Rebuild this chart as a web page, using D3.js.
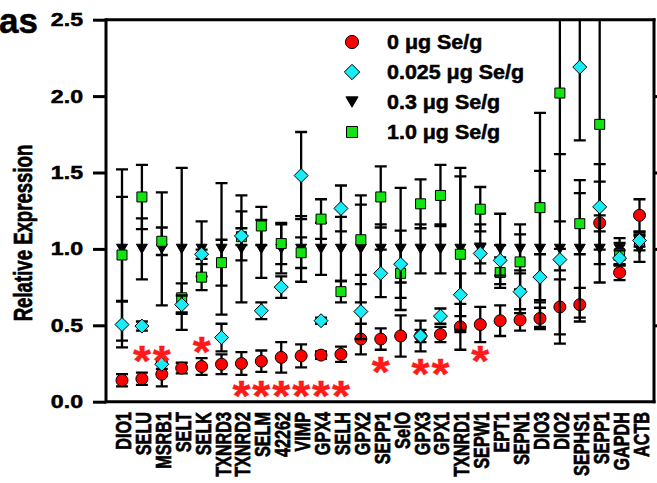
<!DOCTYPE html>
<html>
<head>
<meta charset="utf-8">
<script src="https://cdn.jsdelivr.net/npm/d3@7"></script>
<style>
  html, body { margin: 0; padding: 0; background: #fff; }
  svg { display: block; font-family: "Liberation Sans", Arial, sans-serif; font-weight: bold; }
  .heavy { stroke: #000; stroke-width: 0.5px; paint-order: stroke; }
</style>
</head>
<body>
<svg id="chart" width="657" height="483"></svg>
<script>
// Selenoprotein transcripts (x categories)
const genes = ["DIO1","SELU","MSRB1","SELT","SELK","TXNRD3","TXNRD2","SELM","42262","VIMP",
  "GPX4","SELH","GPX2","SEPP1","SelO","GPX3","GPX1","TXNRD1","SEPW1","EPT1",
  "SEPN1","DIO3","DIO2","SEPHS1","SEPP1","GAPDH","ACTB"];

// Dietary selenium groups
const seriesLabels = ["0 \u03bcg Se/g", "0.025 \u03bcg Se/g", "0.3 \u03bcg Se/g", "1.0 \u03bcg Se/g"];

// Relative expression (mean) and error for each group
const se0 = [0.14,0.15,0.18,0.22,0.23,0.245,0.25,0.265,0.29,0.30,0.305,0.31,0.41,0.41,0.43,0.43,0.44,0.49,0.505,0.53,0.535,0.545,0.62,0.635,1.17,0.845,1.22];
const se0Err = [0.04,0.04,0.08,0.035,0.055,0.065,0.075,0.07,0.1,0.075,0.025,0.05,0.1,0.07,0.135,0.04,0.05,0.15,0.115,0.1,0.07,0.07,0.18,0.11,0.27,0.05,0.105];

const se025 = [0.505,0.495,0.245,0.635,0.965,0.42,1.085,0.595,0.75,1.48,0.53,1.265,0.59,0.84,0.90,0.43,0.56,0.70,0.97,0.925,0.72,0.815,0.93,2.19,1.275,0.94,1.055];
const se025Err = [0.15,0.03,0.03,0.06,0.03,0.09,0.16,0.055,0.07,0.285,0.02,0.15,0.18,0.155,0.22,0.1,0.05,0.14,0.065,0.1,0.14,0.15,0.07,0.48,0.28,0.05,0.04];

const se03 = [1,1,1,1,1,1,1,1,1,1,1,1,1,1,1,1,1,1,1,1,1,1,1,1,1,1,1];
const se03Err = [0.34,0.2,0.37,0.53,0.18,0.43,0.35,0.19,0.16,0.215,0.17,0.21,0.35,0.16,0.4,0.16,0.16,0.53,0.16,0.23,0.16,0.51,0.62,0.45,0.22,0.07,0.085];

const se1 = [0.96,1.34,1.05,0.68,0.815,0.91,1.08,1.15,1.035,0.975,1.195,0.72,1.06,1.34,0.84,1.295,1.35,0.965,1.26,0.845,0.915,1.27,2.02,1.165,1.815,0.97,1.05];
const se1Err = [0.56,0.21,0.09,0.095,0.085,0.15,0.055,0.125,0.135,0.1,0.13,0.07,0.23,0.2,0.06,0.16,0.2,0.51,0.145,0.1,0.18,0.62,0.84,0.2,0.7,0.07,0.06];

// Significance marks (category index, height in expression units)
const sigIndex = [1,2,4,6,7,8,9,10,11,13,15,16,18];
const sigLevel = [0.33,0.33,0.39,0.10,0.10,0.10,0.10,0.10,0.10,0.26,0.25,0.25,0.33];

// Y axis ticks
const yTicks = [0, 0.5, 1.0, 1.5, 2.0, 2.5];

const svg = d3.select("#chart");
const plot = { left: 106, right: 654, top: 19.7, bottom: 401.7 };

const x = d3.scalePoint().domain(d3.range(genes.length)).range([122, 639.5]);
const y = d3.scaleLinear().domain([0, 2.5]).range([plot.bottom, plot.top]);

// Marker shapes
const shapes = {
  circle: r => { const p = d3.path(); p.arc(0, 0, r, 0, 2 * Math.PI); return p.toString(); },
  diamond: r => `M0,${-r}L${r},0L0,${r}L${-r},0Z`,
  triangle: r => `M${-r},${-r * 0.85}L${r},${-r * 0.85}L0,${r * 0.85}Z`,
  square: r => `M${-r},${-r}H${r}V${r}H${-r}Z`
};

const series = [
  { label: seriesLabels[0], mean: se0,   err: se0Err,   shape: "circle",   size: 6,   fill: "#ff0000" },
  { label: seriesLabels[1], mean: se025, err: se025Err, shape: "diamond",  size: 7,   fill: "#18ecf6" },
  { label: seriesLabels[2], mean: se03,  err: se03Err,  shape: "triangle", size: 5.5, fill: "#000000" },
  { label: seriesLabels[3], mean: se1,   err: se1Err,   shape: "square",   size: 5,   fill: "#12e412" }
];
// drawing order: 0, 0.3, 1.0, then 0.025 on top
const drawOrder = [0, 2, 3, 1];

svg.append("defs").append("clipPath").attr("id", "plotClip")
  .append("rect")
  .attr("x", plot.left).attr("y", plot.top)
  .attr("width", plot.right - plot.left).attr("height", plot.bottom - plot.top);

const g = svg.append("g").attr("clip-path", "url(#plotClip)");
const capW = 6;

drawOrder.forEach(si => {
  const s = series[si];
  const data = genes.map((name, i) => ({ i, m: s.mean[i], e: s.err[i] }));
  const sg = g.append("g");
  const eb = sg.selectAll("g.eb").data(data).join("g").attr("class", "eb")
    .attr("stroke", "#000").attr("stroke-width", 2.3).attr("fill", "none");
  eb.append("line")
    .attr("x1", d => x(d.i)).attr("x2", d => x(d.i))
    .attr("y1", d => y(d.m - d.e)).attr("y2", d => y(d.m + d.e));
  eb.append("line")
    .attr("x1", d => x(d.i) - capW).attr("x2", d => x(d.i) + capW)
    .attr("y1", d => y(d.m + d.e)).attr("y2", d => y(d.m + d.e));
  eb.append("line")
    .attr("x1", d => x(d.i) - capW).attr("x2", d => x(d.i) + capW)
    .attr("y1", d => y(d.m - d.e)).attr("y2", d => y(d.m - d.e));
  sg.selectAll("path.mk").data(data).join("path").attr("class", "mk")
    .attr("d", shapes[s.shape](s.size))
    .attr("transform", d => `translate(${x(d.i)},${y(d.m)})`)
    .attr("fill", s.fill).attr("stroke", "#000").attr("stroke-width", 1);
});

// Significance asterisks
svg.append("g").selectAll("text").data(sigIndex.map((idx, k) => ({ idx, v: sigLevel[k] })))
  .join("text")
  .attr("transform", d => `translate(${x(d.idx)},${y(d.v) + 24}) scale(1.1,1)`)
  .attr("text-anchor", "middle")
  .attr("font-size", 42).attr("fill", "#ff1a1a").attr("font-weight", "bold")
  .attr("stroke", "#ff1a1a").attr("stroke-width", 0.4)
  .text("*");

// Frame and axes
const frame = svg.append("g").attr("stroke", "#000").attr("stroke-width", 3).attr("fill", "none");
frame.append("line").attr("x1", plot.left).attr("x2", plot.left).attr("y1", plot.top - 1.5).attr("y2", plot.bottom + 1.5);
frame.append("line").attr("x1", plot.right).attr("x2", plot.right).attr("y1", plot.top - 1.5).attr("y2", plot.bottom + 1.5);
frame.append("line").attr("x1", plot.left).attr("x2", plot.right + 1.5).attr("y1", plot.top).attr("y2", plot.top);
frame.append("line").attr("x1", plot.left).attr("x2", plot.right + 1.5).attr("y1", plot.bottom).attr("y2", plot.bottom);

const yAxisL = d3.axisLeft(y).tickValues(yTicks).tickFormat(d3.format(".1f")).tickSize(13).tickPadding(10);
const gyl = svg.append("g").attr("transform", `translate(${plot.left},0)`).call(yAxisL);
gyl.select(".domain").remove();
gyl.selectAll(".tick line").attr("stroke-width", 3);
gyl.selectAll(".tick text").attr("font-size", 18.5).attr("font-weight", "bold").attr("fill", "#000")
  .attr("font-family", "Liberation Sans, Arial, sans-serif")
  .attr("class", "heavy")
  .each(function () {
    const t = d3.select(this);
    const tx = +t.attr("x");
    t.attr("x", null).attr("transform", `translate(${tx},0) scale(1.25,1)`);
  });

const yAxisR = d3.axisRight(y).tickValues(yTicks.slice(1, 5)).tickFormat("").tickSize(12);
const gyr = svg.append("g").attr("transform", `translate(${plot.right},0)`).call(yAxisR);
gyr.select(".domain").remove();
gyr.selectAll(".tick line").attr("stroke-width", 3);

// Category labels
svg.append("g").selectAll("text").data(genes.map((name, i) => ({ name, i })))
  .join("text")
  .attr("class", "heavy")
  .attr("transform", d => `translate(${x(d.i) + 9},412) scale(1.38,1) rotate(-90)`)
  .attr("text-anchor", "end")
  .attr("font-size", 16.2)
  .text(d => d.name);

// Axis title
svg.append("text")
  .attr("class", "heavy")
  .attr("transform", "translate(31.5,233) scale(1.4,1) rotate(-90)")
  .attr("text-anchor", "middle")
  .attr("font-size", 18.6)
  .text("Relative Expression");

// Panel title fragment
svg.append("text").attr("class", "heavy").attr("x", 38).attr("y", 33).attr("text-anchor", "end")
  .attr("font-size", 35).text("as");

// Legend
const legend = svg.append("g").attr("transform", "translate(352,42)");
const legRow = legend.selectAll("g").data(series).join("g")
  .attr("transform", (d, i) => `translate(0,${i * 30})`);
legRow.append("path")
  .attr("d", d => shapes[d.shape](d.size * 1.1))
  .attr("fill", d => d.fill).attr("stroke", "#000").attr("stroke-width", 1);
legRow.append("text").attr("class", "heavy")
  .attr("transform", "translate(35,7) scale(1.1,1)")
  .attr("font-size", 19.5)
  .text(d => d.label);
</script>
</body>
</html>
